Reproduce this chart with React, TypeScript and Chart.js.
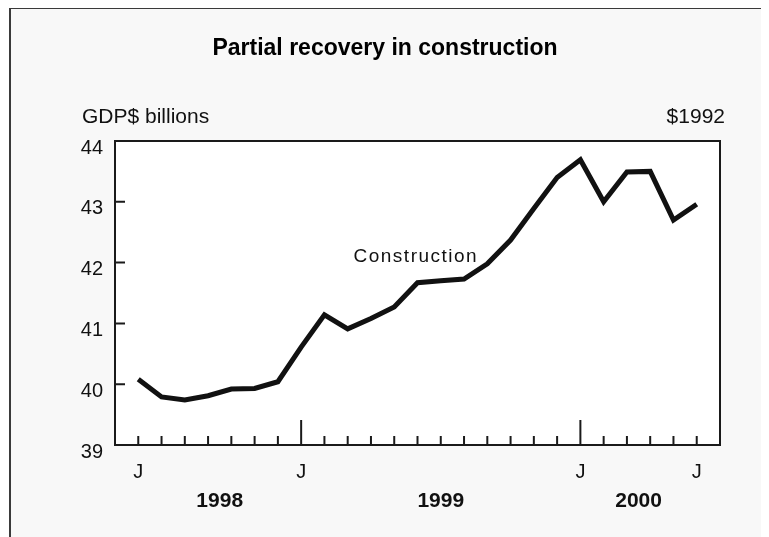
import { useEffect, useRef } from 'react';
import { Chart, registerables } from 'chart.js';

Chart.register(...registerables);

// ---- data ----
const months = [
  'Jun 1998', 'Jul 1998', 'Aug 1998', 'Sep 1998', 'Oct 1998', 'Nov 1998', 'Dec 1998',
  'Jan 1999', 'Feb 1999', 'Mar 1999', 'Apr 1999', 'May 1999', 'Jun 1999', 'Jul 1999',
  'Aug 1999', 'Sep 1999', 'Oct 1999', 'Nov 1999', 'Dec 1999',
  'Jan 2000', 'Feb 2000', 'Mar 2000', 'Apr 2000', 'May 2000', 'Jun 2000',
];
const construction = [
  40.08, 39.79, 39.74, 39.81, 39.92, 39.93, 40.04,
  40.61, 41.14, 40.91, 41.08, 41.27, 41.67, 41.70,
  41.73, 41.98, 42.37, 42.89, 43.40,
  43.69, 43.00, 43.49, 43.50, 42.70, 42.96,
];
const xTickLabels = [
  'J', '', '', '', '', '', '',
  'J', '', '', '', '', '', '',
  '', '', '', '', '',
  'J', '', '', '', '', 'J',
];
const majorTickIndex = [7, 19];
const yTicks = [39, 40, 41, 42, 43, 44];
const yearLabels = ['1998', '1999', '2000'];
const yearCenters = [3.5, 13, 21.5];
const seriesLabel = 'Construction';
const seriesLabelPos = { x: 9.25, y: 42.09 };
const titleText = 'Partial recovery in construction';
const unitLeft = 'GDP$ billions';
const unitRight = '$1992';

const FONT = '"Liberation Sans", Arial, Helvetica, sans-serif';
const INK = '#111111';

const plotBgPlugin = {
  id: 'plotBg',
  beforeDraw(chart: any) {
    const { ctx, chartArea } = chart;
    ctx.save();
    ctx.fillStyle = '#ffffff';
    ctx.fillRect(chartArea.left, chartArea.top, chartArea.right - chartArea.left, chartArea.bottom - chartArea.top);
    ctx.restore();
  },
};

const decorPlugin = {
  id: 'decor',
  afterDraw(chart: any) {
    const { ctx, chartArea, scales } = chart;
    const xs = scales.x;
    const ys = scales.y;
    ctx.save();
    // plot frame
    ctx.strokeStyle = '#1a1a1a';
    ctx.lineWidth = 2;
    ctx.strokeRect(chartArea.left, chartArea.top, chartArea.right - chartArea.left, chartArea.bottom - chartArea.top);
    // y ticks (inside)
    ctx.beginPath();
    yTicks.forEach((v) => {
      const py = ys.getPixelForValue(v);
      ctx.moveTo(chartArea.left, py);
      ctx.lineTo(chartArea.left + 10, py);
    });
    // x ticks (inside)
    months.forEach((_, i) => {
      const px = xs.getPixelForValue(i);
      const len = majorTickIndex.includes(i) ? 25 : 9;
      ctx.moveTo(px, chartArea.bottom);
      ctx.lineTo(px, chartArea.bottom - len);
    });
    ctx.stroke();

    // title
    ctx.fillStyle = '#000';
    ctx.textAlign = 'center';
    ctx.textBaseline = 'alphabetic';
    ctx.font = `bold 23px ${FONT}`;
    ctx.fillText(titleText, 374, 46);

    // unit labels
    ctx.font = `21px ${FONT}`;
    ctx.fillStyle = INK;
    ctx.textAlign = 'left';
    ctx.fillText(unitLeft, 71, 114);
    ctx.textAlign = 'right';
    ctx.fillText(unitRight, 714, 114);

    // year labels
    ctx.font = `bold 21px ${FONT}`;
    ctx.textAlign = 'center';
    ctx.textBaseline = 'middle';
    yearLabels.forEach((t, i) => {
      ctx.fillText(t, xs.getPixelForValue(yearCenters[i]), chartArea.bottom + 56);
    });

    // series label
    ctx.font = `19px ${FONT}`;
    (ctx as any).letterSpacing = '1.5px';
    ctx.textAlign = 'left';
    ctx.textBaseline = 'middle';
    ctx.fillText(seriesLabel, xs.getPixelForValue(seriesLabelPos.x), ys.getPixelForValue(seriesLabelPos.y));
    (ctx as any).letterSpacing = '0px';
    ctx.restore();
  },
};

export default function App() {
  const canvasRef = useRef<HTMLCanvasElement | null>(null);

  useEffect(() => {
    if (!canvasRef.current) return;
    Chart.defaults.font.family = FONT;
    const chart = new Chart(canvasRef.current, {
      type: 'line',
      data: {
        datasets: [
          {
            label: seriesLabel,
            data: construction.map((v, i) => ({ x: i, y: v })),
            borderColor: INK,
            borderWidth: 5,
            pointRadius: 0,
            tension: 0,
            fill: false,
            borderJoinStyle: 'miter',
          },
        ],
      },
      options: {
        animation: false,
        responsive: true,
        maintainAspectRatio: false,
        layout: { padding: { top: 132, right: 49, left: 0, bottom: 0 } },
        plugins: {
          legend: { display: false },
          title: { display: false },
          tooltip: { enabled: false },
        },
        scales: {
          x: {
            type: 'linear',
            min: -1,
            max: 25,
            grid: { display: false, drawTicks: false },
            border: { display: false },
            afterBuildTicks: (scale: any) => {
              scale.ticks = months.map((_, i) => ({ value: i }));
            },
            afterFit: (scale: any) => {
              scale.height = 92;
            },
            ticks: {
              autoSkip: false,
              maxRotation: 0,
              padding: 15,
              color: INK,
              font: { size: 20 },
              callback: (v: any) => xTickLabels[v] ?? '',
            },
          },
          y: {
            min: 39,
            max: 44,
            grid: { display: false, drawTicks: false },
            border: { display: false },
            afterBuildTicks: (scale: any) => {
              scale.ticks = yTicks.map((v) => ({ value: v }));
            },
            afterFit: (scale: any) => {
              scale.width = 104;
            },
            ticks: {
              padding: 12,
              labelOffset: 7,
              color: INK,
              font: { size: 20 },
              callback: (v: any) => String(v),
            },
          },
        },
      },
      plugins: [plotBgPlugin, decorPlugin],
    });
    return () => chart.destroy();
  }, []);

  return (
    <div
      style={{
        width: 758,
        height: 528,
        marginTop: -1,
        marginLeft: 1,
        borderTop: '2px solid #3a3a3a',
        borderLeft: '2px solid #3a3a3a',
        background: '#f8f8f8',
        position: 'relative',
        overflow: 'hidden',
      }}
    >
      <canvas ref={canvasRef} />
    </div>
  );
}
